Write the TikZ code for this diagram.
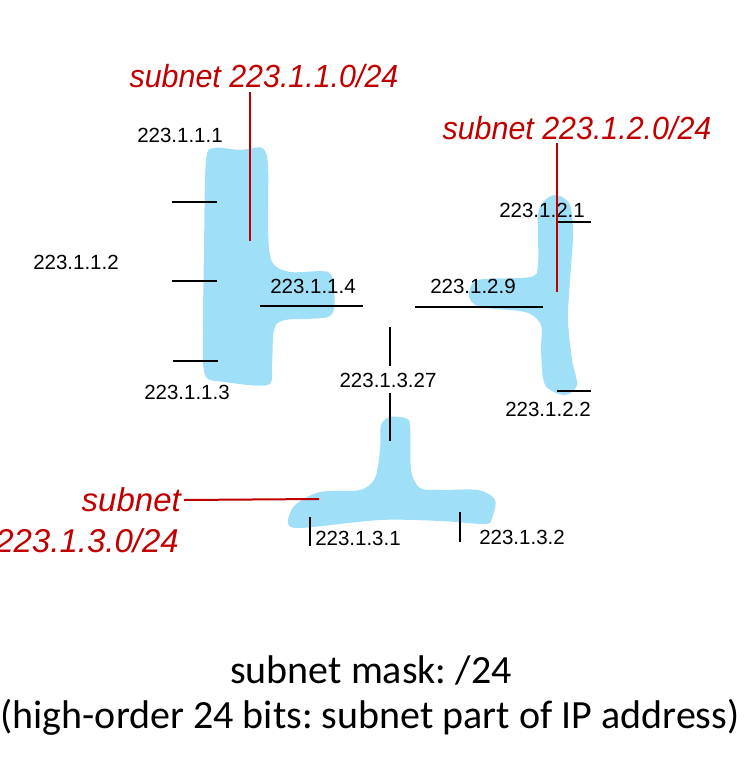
\documentclass[tikz,border=0pt]{standalone}
\usepackage{graphicx}
\usepackage{fontspec}
\setmainfont{Liberation Sans}
\newfontfamily\calib{Carlito}
\newcommand{\narrowred}[1]{\scalebox{0.95}[1]{#1}}
\definecolor{blobblue}{RGB}{160,223,248}
\definecolor{subred}{RGB}{192,0,0}
\tikzset{
  blob/.style={fill=blobblue, draw=none},
  iface/.style={draw=black, line width=2.5pt},
  ptr/.style={draw=subred, line width=2pt},
  addr/.style={inner sep=0pt, font=\fontsize{20.5}{23}\selectfont},
  redlab/.style={inner sep=0pt, text=subred, font=\fontsize{32}{35}\selectfont\itshape},
  bottomtxt/.style={inner sep=0pt, font=\calib\frenchspacing\fontsize{40}{46}\selectfont}
}
\begin{document}
\begin{tikzpicture}[x=1pt,y=-1pt]
\useasboundingbox (0,0) rectangle (750,773);
% blobs
\fill[blob] plot[smooth cycle, tension=0.5] coordinates {(206,160) (215,148) (240,150) (262,148) (268,165) (268,230) (272,262) (290,272) (328,272) (334,290) (330,316) (285,320) (274,330) (272,365) (268,385) (225,382) (205,375) (203,330) (204,250)};
\fill[blob] plot[smooth cycle, tension=0.5] coordinates {(545,200) (557,195) (570,205) (573,235) (570,280) (568,320) (572,360) (577,385) (565,395) (545,385) (541,350) (541,325) (525,312) (480,307) (469,296) (478,280) (530,277) (538,265) (538,215)};
\fill[blob] plot[smooth cycle, tension=0.5] coordinates {(381,425) (390,417) (405,418) (410,425) (411,470) (420,488) (440,490) (478,490) (495,500) (492,518) (485,524) (440,521) (380,520) (300,528) (288,522) (295,505) (320,492) (360,490) (375,478) (380,450)};

% interface coordinates
\coordinate (a1) at (172,202); \coordinate (b1) at (217,202);
\coordinate (a2) at (172,281); \coordinate (b2) at (217,281);
\coordinate (a3) at (173,361); \coordinate (b3) at (218,361);
\coordinate (a4) at (260,306); \coordinate (b4) at (363,306);
\coordinate (c1) at (557,222); \coordinate (d1) at (591,222);
\coordinate (c2) at (557,391); \coordinate (d2) at (591,391);
\coordinate (c9) at (415,307); \coordinate (d9) at (543,307);
\coordinate (m1) at (390,327); \coordinate (m2) at (390,366);
\coordinate (m3) at (390,393); \coordinate (m4) at (390,441);
\coordinate (e1) at (310,517); \coordinate (f1) at (310,546);
\coordinate (e2) at (460,512); \coordinate (f2) at (460,542);

\draw[iface] (a1) -- (b1);
\draw[iface] (a2) -- (b2);
\draw[iface] (a3) -- (b3);
\draw[iface] (a4) -- (b4);
\draw[iface] (c1) -- (d1);
\draw[iface] (c2) -- (d2);
\draw[iface] (c9) -- (d9);
\draw[iface] (m1) -- (m2);
\draw[iface] (m3) -- (m4);
\draw[iface] (e1) -- (f1);
\draw[iface] (e2) -- (f2);

% address labels
\node[addr] (l111) at (180,135) {223.1.1.1};
\node[addr] (l112) at (76,262) {223.1.1.2};
\node[addr] (l113) at (187,392) {223.1.1.3};
\node[addr] (l114) at (313,286) {223.1.1.4};
\node[addr] (l121) at (542,210) {223.1.2.1};
\node[addr] (l129) at (473,286) {223.1.2.9};
\node[addr] (l122) at (548,409) {223.1.2.2};
\node[addr] (l1327) at (388,380) {223.1.3.27};
\node[addr] (l131) at (358,538) {223.1.3.1};
\node[addr] (l132) at (522,537) {223.1.3.2};

% red subnet labels
\node[redlab] (s1) at (264,76) {\narrowred{subnet 223.1.1.0/24}};
\node[redlab] (s2) at (577,128) {\narrowred{subnet 223.1.2.0/24}};
\node[redlab, anchor=east, font=\fontsize{33}{36}\selectfont\itshape] (s3a) at (181,500) {subnet};
\node[redlab, anchor=east, font=\fontsize{33}{36}\selectfont\itshape] (s3b) at (179,541) {223.1.3.0/24};
\coordinate (p1) at (250,241);
\coordinate (p2) at (557,292);
\coordinate (p3) at (319,499);
\draw[ptr] (250,92) -- (p1);
\draw[ptr] (557,143) -- (p2);
\draw[ptr] (s3a.east) ++(3,0) coordinate (q3) -- (p3);

% bottom text
\node[bottomtxt] (t1) at (371,670) {subnet mask: /24};
\node[bottomtxt] (t2) at (370,717) {(high-order 24 bits: subnet part of IP address)};
\end{tikzpicture}
\end{document}
